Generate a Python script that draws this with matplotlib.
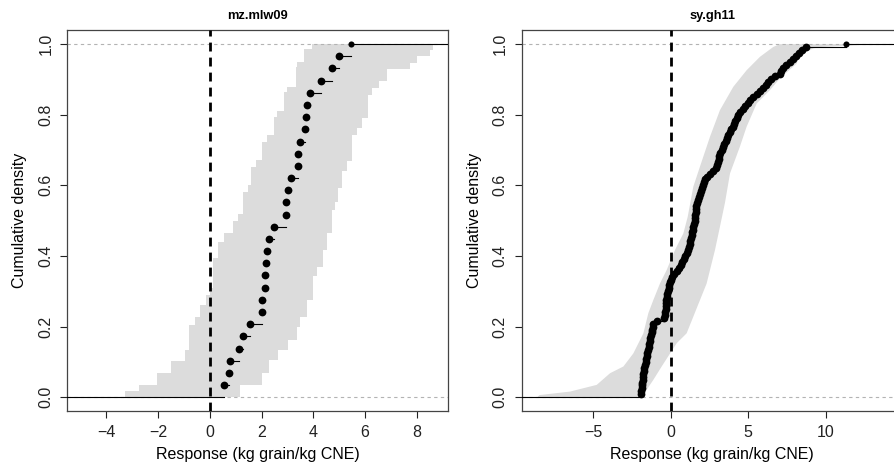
import matplotlib
matplotlib.use("Agg")
import matplotlib.pyplot as plt
from matplotlib.patches import Polygon

plt.rcParams['font.family'] = ['Liberation Sans', 'DejaVu Sans']

# ---------------- data ----------------
titles = ["mz.mlw09", "sy.gh11"]
xlabel = "Response (kg grain/kg CNE)"
ylabel = "Cumulative density"

# panel 1: sorted responses (29 fields)
resp1 = [0.54, 0.75, 0.77, 1.13, 1.29, 1.56, 2.01, 2.02, 2.12, 2.15, 2.16, 2.23,
         2.30, 2.47, 2.93, 2.94, 3.04, 3.15, 3.40, 3.41, 3.49, 3.67, 3.73, 3.75,
         3.87, 4.31, 4.74, 4.98, 5.46]

# panel 1 credible band (step edges: level where a step starts, x of the step)
band1_lo_y = [0.000, 0.018, 0.035, 0.068, 0.103, 0.134, 0.205, 0.228, 0.262, 0.290,
              0.310, 0.393, 0.440, 0.464, 0.500, 0.520, 0.582, 0.601, 0.653, 0.672,
              0.723, 0.742, 0.794, 0.810, 0.865, 0.879, 0.934, 0.948, 0.987]
band1_lo_x = [-3.27, -2.72, -2.05, -1.49, -0.95, -0.82, -0.57, -0.37, -0.15, 0.00,
              0.14, 0.33, 0.55, 0.88, 1.10, 1.30, 1.49, 1.58, 1.79, 2.01,
              2.22, 2.49, 2.59, 2.87, 2.97, 3.33, 3.38, 3.64, 3.96]
band1_hi_y = [0.000, 0.035, 0.068, 0.106, 0.134, 0.162, 0.200, 0.228, 0.276, 0.342,
              0.370, 0.417, 0.464, 0.530, 0.554, 0.592, 0.640, 0.668, 0.743, 0.762,
              0.791, 0.857, 0.875, 0.896, 0.930, 0.946, 0.965, 0.984]
band1_hi_x = [1.17, 2.01, 2.27, 2.65, 3.04, 3.36, 3.49, 3.75, 4.00, 4.13,
              4.39, 4.52, 4.71, 4.85, 4.97, 5.10, 5.29, 5.48, 5.68, 5.87,
              6.12, 6.25, 6.54, 6.86, 7.73, 7.99, 8.51, 8.61]

# panel 2: sorted responses (120 fields)
resp2 = [-1.91, -1.89, -1.87, -1.85, -1.83, -1.80, -1.78, -1.76, -1.72, -1.69,
         -1.65, -1.62, -1.58, -1.54, -1.50, -1.46, -1.42, -1.38, -1.35, -1.31,
         -1.27, -1.23, -1.20, -1.16, -1.11, -0.85, -0.45, -0.36, -0.34, -0.33,
         -0.31, -0.29, -0.28, -0.26, -0.22, -0.17, -0.12, -0.08, -0.03, 0.02,
         0.07, 0.23, 0.38, 0.54, 0.66, 0.75, 0.85, 0.94, 1.04, 1.14,
         1.18, 1.22, 1.26, 1.31, 1.35, 1.39, 1.43, 1.47, 1.52, 1.56,
         1.58, 1.60, 1.62, 1.64, 1.66, 1.68, 1.74, 1.81, 1.87, 1.94,
         2.00, 2.07, 2.15, 2.24, 2.32, 2.51, 2.71, 2.90, 3.00, 3.05,
         3.10, 3.14, 3.20, 3.29, 3.37, 3.46, 3.55, 3.64, 3.72, 3.81,
         3.90, 3.99, 4.07, 4.16, 4.25, 4.34, 4.47, 4.64, 4.80, 4.97,
         5.14, 5.34, 5.55, 5.76, 5.96, 6.12, 6.29, 6.48, 6.76, 7.04,
         7.11, 7.22, 7.44, 7.67, 7.89, 8.08, 8.27, 8.46, 8.73, 11.29]

# panel 2 credible band (outline points)
band2_lo_y = [0.000, 0.006, 0.016, 0.035, 0.068, 0.087, 0.124, 0.181, 0.238, 0.275,
              0.322, 0.360, 0.417, 0.464, 0.511, 0.596, 0.653, 0.738, 0.813, 0.879,
              0.926, 0.964, 0.992, 1.000]
band2_lo_x = [-8.60, -8.47, -6.49, -4.77, -3.91, -3.05, -2.41, -1.76, -1.44, -1.12,
              -0.69, -0.26, 0.28, 0.82, 1.10, 1.46, 1.89, 2.54, 3.18, 4.04,
              4.90, 5.76, 6.62, 7.05]
band2_hi_y = [0.000, 0.021, 0.049, 0.087, 0.124, 0.153, 0.181, 0.228, 0.275, 0.322,
              0.417, 0.483, 0.550, 0.634, 0.710, 0.766, 0.832, 0.870, 0.903, 0.945,
              0.969, 0.988, 0.992, 0.997, 1.000]
band2_hi_x = [-1.80, -1.55, -1.12, -0.58, -0.04, 0.39, 1.03, 1.46, 1.89, 2.32,
              2.86, 3.18, 3.50, 3.83, 4.47, 4.90, 5.55, 6.41, 7.05, 8.13,
              8.34, 9.20, 9.74, 12.00, 12.00]

xlims = [(-5.5, 9.2), (-9.61, 14.97)]
xticks = [[-4, -2, 0, 2, 4, 6, 8], [-5, 0, 5, 10]]
yticks = [0.0, 0.2, 0.4, 0.6, 0.8, 1.0]
ytick_labels = ["0.0", "0.2", "0.4", "0.6", "0.8", "1.0"]

band_color = "#dcdcdc"
ref_grey = "#b3b3b3"

W, H = 895, 469
fig = plt.figure(figsize=(W / 100, H / 100), dpi=100)
ax1 = fig.add_axes([67.3 / W, (H - 411) / H, 380.7 / W, 381 / H])
ax2 = fig.add_axes([521.7 / W, (H - 411) / H, 381 / W, 381 / H])


def step_band(lo_y, lo_x, hi_y, hi_x):
    verts = []
    ly = list(lo_y) + [1.0]
    for i, x in enumerate(lo_x):
        verts.append((x, ly[i]))
        verts.append((x, ly[i + 1]))
    hy = list(hi_y) + [1.0]
    for i in range(len(hi_x) - 1, -1, -1):
        verts.append((hi_x[i], hy[i + 1]))
        verts.append((hi_x[i], hy[i]))
    return verts


def draw_panel(ax, resp, band_verts, title, xl, xt):
    ax.add_patch(Polygon(band_verts, closed=True, facecolor=band_color,
                         edgecolor="none", zorder=1))
    n = len(resp)
    levels = [(k + 1) / n for k in range(n)]
    # reference lines at 0 and 1
    ax.axhline(0, color=ref_grey, lw=0.8, ls=(0, (3, 3)), zorder=2)
    ax.axhline(1, color=ref_grey, lw=0.8, ls=(0, (3, 3)), zorder=2)
    # ECDF horizontal segments
    ax.plot([xl[0] - 1, resp[0]], [0, 0], color="black", lw=0.8, zorder=3)
    for i in range(n):
        x_end = resp[i + 1] if i + 1 < n else xl[1] + 1
        ax.plot([resp[i], x_end], [levels[i], levels[i]], color="black",
                lw=0.8, zorder=3)
    ax.plot(resp[:-1], levels[:-1], "o", color="black", ms=5.6, zorder=4,
            markeredgewidth=0)
    ax.plot([resp[-1]], [levels[-1]], "o", color="black",
            ms=4.4, zorder=4, markeredgewidth=0)
    ax.axvline(0, color="black", lw=2.0, ls=(0, (3.2, 2.2)), zorder=5)

    ax.set_xlim(*xl)
    ax.set_ylim(-0.039, 1.04)
    ax.set_xticks(xt)
    ax.set_xticklabels([f"{t:g}".replace("-", "\u2212") for t in xt])
    ax.set_yticks(yticks)
    ax.set_yticklabels(ytick_labels, rotation=90, va="center")
    ax.tick_params(direction="out", length=5, width=0.8, labelsize=11.5,
                   pad=5, colors="#222222")
    for s in ax.spines.values():
        s.set_color("#444444")
        s.set_linewidth(0.9)
    ax.set_title(title, fontsize=9.3, fontweight="bold", pad=8)
    ax.set_xlabel(xlabel, fontsize=11.5, labelpad=5)
    ax.set_ylabel(ylabel, fontsize=11.5, labelpad=8)


draw_panel(ax1, resp1, step_band(band1_lo_y, band1_lo_x, band1_hi_y, band1_hi_x),
           titles[0], xlims[0], xticks[0])

band2 = list(zip(band2_lo_x, band2_lo_y)) + list(zip(band2_hi_x, band2_hi_y))[::-1]
draw_panel(ax2, resp2, band2, titles[1], xlims[1], xticks[1])

fig.savefig("out.png", dpi=100)
